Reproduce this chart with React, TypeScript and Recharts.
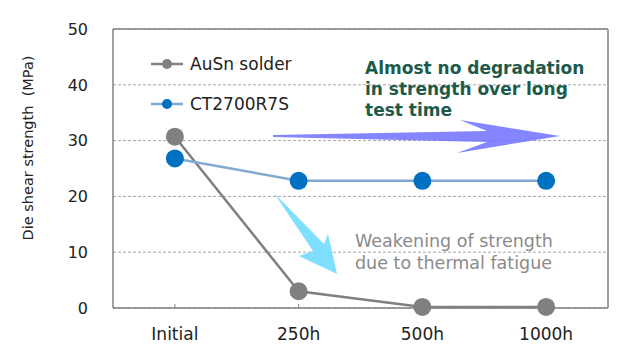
import { LineChart, Line, XAxis, YAxis, CartesianGrid, Legend, Customized } from "recharts";

const categories = ["Initial", "250h", "500h", "1000h"];
const ausnSolder = [30.7, 3.0, 0.2, 0.2];
const ct2700r7s = [26.8, 22.8, 22.8, 22.8];
const yTicks = [0, 10, 20, 30, 40, 50];

const data = categories.map((name, i) => ({ name, ausn: ausnSolder[i], ct: ct2700r7s[i] }));

const FONT = "DejaVu Sans";
const W = 636;
const H = 353;
const PLOT_L = 113;
const PLOT_T = 29;
const PLOT_R = 608;
const PLOT_B = 308;
const AXIS = "#808080";
const HALF_BAND = (PLOT_R - PLOT_L) / categories.length / 2;

const XTick = (props: any) => {
  const { x, payload } = props;
  return (
    <g>
      <line x1={x} x2={x} y1={PLOT_B} y2={PLOT_B - 4} stroke={AXIS} strokeWidth={1} />
      <text x={x} y={340} textAnchor="middle" fontFamily={FONT} fontSize={17} fill="#222">
        {payload.value}
      </text>
    </g>
  );
};

const YTick = (props: any) => {
  const { y, payload } = props;
  return (
    <text x={PLOT_L - 25} y={y} dy="0.36em" textAnchor="end" fontFamily={FONT} fontSize={16} fill="#222">
      {payload.value}
    </text>
  );
};

const legendItems = [
  { label: "AuSn solder", line: "#808080", dot: "#808080" },
  { label: "CT2700R7S", line: "#80AAD0", dot: "#0070C0" },
];

const LegendBox = () => (
  <div style={{ fontFamily: FONT }}>
    {legendItems.map((it) => (
      <div key={it.label} style={{ display: "flex", alignItems: "center", height: 40 }}>
        <svg width={36} height={12}>
          <line x1={0} x2={32} y1={6} y2={6} stroke={it.line} strokeWidth={2.5} />
          <circle cx={16} cy={6} r={5} fill={it.dot} />
        </svg>
        <span style={{ fontSize: 17, color: "#222", marginLeft: 3 }}>{it.label}</span>
      </div>
    ))}
  </div>
);

const Annotations = () => (
  <g>
    <line x1={PLOT_L} x2={PLOT_R} y1={PLOT_T} y2={PLOT_T} stroke={AXIS} strokeWidth={1.5} />
    <line x1={PLOT_R} x2={PLOT_R} y1={PLOT_T} y2={PLOT_B} stroke={AXIS} strokeWidth={1.5} />
    <polygon
      points="273,135 487,131 460,120 560,136 457,153 487,142 273,137"
      fill="#7070FF"
      fillOpacity={0.85}
    />
    <polygon
      points="272,191 324,244 328,234 337,274 299,256 313,251 274,193"
      fill="#70DCFF"
      fillOpacity={0.9}
    />
    <text fontFamily={FONT} fontSize={17} fontWeight="bold" fill="#1E5A4A">
      <tspan x={365} y={74}>Almost no degradation</tspan>
      <tspan x={365} y={95}>in strength over long</tspan>
      <tspan x={365} y={116}>test time</tspan>
    </text>
    <text fontFamily={FONT} fontSize={17.5} fill="#8A8A8A">
      <tspan x={355} y={247}>Weakening of strength</tspan>
      <tspan x={355} y={269}>due to thermal fatigue</tspan>
    </text>
    <text
      transform="translate(33,148) rotate(-90)"
      textAnchor="middle"
      fontFamily={FONT}
      fontSize={14.5}
      fill="#222"
      style={{ whiteSpace: "pre" }}
    >
      Die shear strength  (MPa)
    </text>
  </g>
);

export default function App() {
  return (
    <div style={{ position: "absolute", left: 0, top: 0, width: W, height: H, background: "#fff" }}>
      <LineChart width={W} height={H} data={data} margin={{ top: PLOT_T, right: W - PLOT_R, left: 0, bottom: 0 }}>
        <CartesianGrid horizontal vertical={false} stroke="#A6A6A6" strokeDasharray="3 2" />
        <XAxis
          dataKey="name"
          height={H - PLOT_B}
          padding={{ left: HALF_BAND, right: HALF_BAND }}
          axisLine={{ stroke: AXIS, strokeWidth: 1.5 }}
          tickLine={false}
          tick={<XTick />}
          interval={0}
        />
        <YAxis
          width={PLOT_L}
          domain={[0, 50]}
          ticks={yTicks}
          axisLine={{ stroke: AXIS, strokeWidth: 1.5 }}
          tickLine={false}
          tick={<YTick />}
          interval={0}
        />
        <Legend
          content={<LegendBox />}
          layout="vertical"
          verticalAlign="middle"
          align="center"
          wrapperStyle={{ position: "absolute", left: 151, top: 44, width: 200 }}
        />
        <Customized component={<Annotations />} />
        <Line
          dataKey="ausn"
          name="AuSn solder"
          stroke="#808080"
          strokeWidth={2.5}
          dot={{ r: 9, fill: "#808080", stroke: "none" }}
          activeDot={false}
          isAnimationActive={false}
        />
        <Line
          dataKey="ct"
          name="CT2700R7S"
          stroke="#80AAD0"
          strokeWidth={2.5}
          dot={{ r: 9, fill: "#0070C0", stroke: "none" }}
          activeDot={false}
          isAnimationActive={false}
        />
      </LineChart>
    </div>
  );
}
